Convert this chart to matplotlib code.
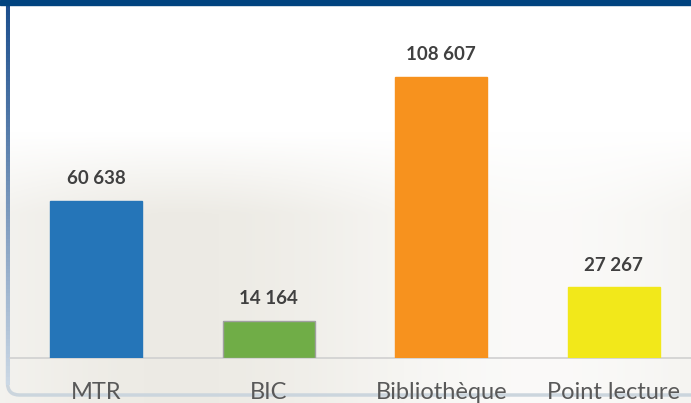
import numpy as np
import matplotlib
matplotlib.use("Agg")
import matplotlib.pyplot as plt
from matplotlib.patches import FancyBboxPatch, Rectangle

categories = ["MTR", "BIC", "Bibliothèque", "Point lecture"]
values = [60638, 14164, 108607, 27267]
labels = ["60 638", "14 164", "108 607", "27 267"]
colors = ["#2575B8", "#70AD47", "#F7921E", "#F2E81A"]
edges = ["#2575B8", "#A0A0A0", "#F7921E", "#F2E81A"]


def main():
    W, H = 691, 403
    fig = plt.figure(figsize=(W / 100, H / 100), dpi=100)

    # faded photo-like background
    bg = fig.add_axes([0, 0, 1, 1])
    bg.set_axis_off()
    yy = np.linspace(0, 1, 200)[:, None]
    xx = np.linspace(0, 1, 300)[None, :]
    shade = np.clip((yy - 0.33) / 0.2, 0, 1) * (0.05 + 0.03 * np.sin(xx * 6))
    r = 1 - shade * 0.9
    g = 1 - shade * 1.0
    b = 1 - shade * 1.3
    img = np.dstack([r, g, b])
    bg.imshow(img, extent=[0, W, H, 0], aspect="auto", zorder=0)
    bg.set_xlim(0, W)
    bg.set_ylim(H, 0)
    # left border with rounded corner
    frame = FancyBboxPatch((7.5, -30), W + 50, 425, boxstyle="round,pad=0,rounding_size=12",
                           fill=False, edgecolor="#CBD5DD", linewidth=2.5, zorder=1)
    bg.add_patch(frame)
    grad = np.linspace(0, 1, 100)[:, None]
    left = np.dstack([0.10 + 0.7 * grad, 0.30 + 0.55 * grad, 0.55 + 0.35 * grad])
    bg.imshow(left, extent=[6, 9.5, 385, 0], aspect="auto", zorder=2)
    bg.add_patch(Rectangle((0, 0), W, 5, color="#00437F", zorder=3))

    ax = fig.add_axes([10 / W, 45 / H, 690 / W, 353 / H])
    ax.patch.set_alpha(0)
    x = np.arange(len(categories))
    ax.bar(x, values, width=92 / 172.5, color=colors, edgecolor=edges, linewidth=1, zorder=3)
    for xi, v, lab in zip(x, values, labels):
        ax.annotate(lab, (xi, v), xytext=(0, 10), textcoords="offset points",
                    ha="center", va="bottom", fontsize=13.5, fontweight="bold",
                    color="#404040", family="Lato")
    ax.set_xlim(-0.5, 3.5)
    ax.set_ylim(0, 353 / 281 * 108607)
    ax.set_xticks(x)
    ax.set_xticklabels(categories, fontsize=17, color="#595959", family="Lato")
    ax.tick_params(axis="x", length=0, pad=17)
    ax.set_yticks([])
    for s in ["top", "right", "left"]:
        ax.spines[s].set_visible(False)
    ax.spines["bottom"].set_color("#D0D0D0")
    ax.spines["bottom"].set_linewidth(1.2)

    fig.savefig("out.png", dpi=100)


if __name__ == "__main__":
    main()
